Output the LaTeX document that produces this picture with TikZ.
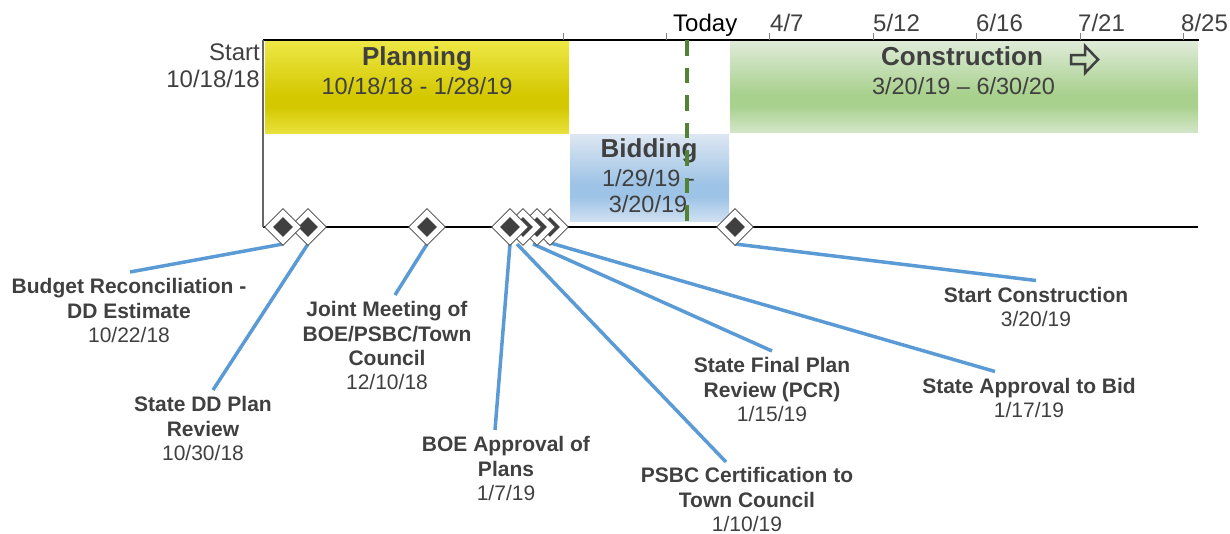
\documentclass[tikz,border=0pt]{standalone}
\usepackage{fontspec}
\setmainfont{Liberation Sans}
\usetikzlibrary{shapes.geometric,calc}
\definecolor{txt}{HTML}{404040}
\definecolor{conn}{HTML}{5B9BD5}
\definecolor{todayc}{HTML}{548235}
\definecolor{yA}{HTML}{EEE846}
\definecolor{yB}{HTML}{D4C800}
\definecolor{yC}{HTML}{E9E13C}
\definecolor{gA}{HTML}{E0ECDA}
\definecolor{gB}{HTML}{A9D18E}
\definecolor{gC}{HTML}{D3E6C8}
\definecolor{bA}{HTML}{DDE7F2}
\definecolor{bB}{HTML}{9DC3E6}
\definecolor{bC}{HTML}{D0E1F1}
\pgfdeclareverticalshading{planshade}{100bp}{color(0bp)=(yC); color(25bp)=(yC); color(39bp)=(yB); color(45bp)=(yB); color(75bp)=(yA); color(100bp)=(yA)}
\pgfdeclareverticalshading{consshade}{100bp}{color(0bp)=(gC); color(25bp)=(gC); color(39bp)=(gB); color(46bp)=(gB); color(75bp)=(gA); color(100bp)=(gA)}
\pgfdeclareverticalshading{bidshade}{100bp}{color(0bp)=(bC); color(25bp)=(bC); color(39bp)=(bB); color(46bp)=(bB); color(75bp)=(bA); color(100bp)=(bA)}
\tikzset{
  phasebox/.style={draw=none, inner sep=0pt, outer sep=0pt, rectangle},
  title/.style={font=\fontsize{26}{30}\selectfont\bfseries, text=txt, inner sep=0pt, anchor=base},
  pdate/.style={font=\fontsize{23.5}{28}\selectfont, text=txt, inner sep=0pt, anchor=base},
  axlab/.style={font=\fontsize{24}{28}\selectfont, text=txt, inner sep=0pt, anchor=base west},
  lbl/.style={font=\fontsize{21}{24.2}\selectfont, text=txt, align=center, inner sep=0pt, anchor=north},
  conline/.style={draw=conn, line width=3.5pt},
  msout/.style={shape=diamond, draw=txt, line width=0.8pt, fill=white, inner sep=0pt, minimum width=37pt, minimum height=37pt},
  msin/.style={shape=diamond, fill=txt, draw=none, inner sep=0pt, minimum width=20pt, minimum height=20pt},
  tick/.style={draw=gray, line width=1pt}
}
\begin{document}
\begin{tikzpicture}[x=1pt,y=-1pt]
\useasboundingbox (0,0) rectangle (1230,533);
% phase boxes
\node[phasebox, shading=planshade, minimum width=304pt, minimum height=93pt] (plan) at (417,86.5) {};
\node[phasebox, shading=consshade, minimum width=468pt, minimum height=92pt] (cons) at (964,86) {};
\node[phasebox, shading=bidshade, minimum width=159pt, minimum height=87pt] (bid) at (649.5,177.5) {};
% axes
\coordinate (axL) at (263,40);
\coordinate (axR) at (1199,40);
\coordinate (baseL) at (263,227);
\coordinate (baseR) at (1198,227);
\draw[black, line width=1.3pt] (axL) -- (axR);
\draw[black, line width=1.1pt] (baseL) -- (baseR);
\draw[draw=txt!80, line width=1.1pt] (axL) -- (baseL);
\foreach \t [count=\i] in {563,666,769,873,976,1080,1183}{
  \coordinate (tk\i) at (\t,33);
  \draw[tick] (tk\i) -- ++(0,7);
}
% axis labels
\node[axlab, text=black] (today) at (673,31.5) {Today};
\node[axlab] (t1) at (770,31.5) {4/7};
\node[axlab] (t2) at (873,31.5) {5/12};
\node[axlab] (t3) at (976,31.5) {6/16};
\node[axlab] (t4) at (1078,31.5) {7/21};
\node[axlab] (t5) at (1181,31.5) {8/25};
\node[font=\fontsize{24}{28}\selectfont, text=txt, inner sep=0pt, anchor=base east] (st1) at (260,60) {Start};
\node[font=\fontsize{24}{28}\selectfont, text=txt, inner sep=0pt, anchor=base east] (st2) at (260,87.3) {10/18/18};
% phase texts
\node[title] (plant) at (417,65) {Planning};
\node[pdate] (pland) at (417,94) {10/18/18 - 1/28/19};
\node[title] (const) at (962,65) {Construction};
\node[pdate] (consd) at (963.5,94) {3/20/19 – 6/30/20};
\node[title] (bidt) at (649,157.3) {Bidding};
\node[pdate] (bidd1) at (648.5,186.7) {1/29/19 -};
\node[pdate] (bidd2) at (648,212.7) {3/20/19};
% arrow in construction
\draw[draw=txt, line width=2.5pt, line join=miter] (1071,55) -- (1085,55) -- (1085,46) -- (1098,59.5) -- (1085,73) -- (1085,64) -- (1071,64) -- cycle;
% milestone positions
\coordinate (p1) at (283,227);
\coordinate (p2) at (308,227);
\coordinate (p3) at (427,227);
\coordinate (p4) at (510,227);
\coordinate (p5) at (523,227);
\coordinate (p6) at (537,227);
\coordinate (p7) at (550,227);
\coordinate (p8) at (735,227);
% labels
\node[lbl] (l1) at (129,278.5) {\textbf{Budget Reconciliation -}\\\textbf{DD Estimate}\\10/22/18};
\node[lbl] (l2) at (203,396.5) {\textbf{State DD Plan}\\\textbf{Review}\\10/30/18};
\node[lbl] (l3) at (387,301.5) {\textbf{Joint Meeting of}\\\textbf{BOE/PSBC/Town}\\\textbf{Council}\\12/10/18};
\node[lbl] (l4) at (506,436.5) {\textbf{BOE Approval of}\\\textbf{Plans}\\1/7/19};
\node[lbl] (l5) at (747,467.5) {\textbf{PSBC Certification to}\\\textbf{Town Council}\\1/10/19};
\node[lbl] (l6) at (772,357.5) {\textbf{State Final Plan}\\\textbf{Review (PCR)}\\1/15/19};
\node[lbl] (l7) at (1029,378) {\textbf{State Approval to Bid}\\1/17/19};
\node[lbl] (l8) at (1036,287) {\textbf{Start Construction}\\3/20/19};
% connectors
\draw[conline] ($(p1)+(0,17)$) -- ($(l1.north)+(1,-6.5)$);
\draw[conline] ($(p2)+(0,17)$) -- ($(l2.north)+(10,-6.5)$);
\draw[conline] ($(p3)+(0,17)$) -- ($(l3.north)+(8,-6.5)$);
\draw[conline] ($(p4)+(0,17)$) -- ($(l4.north)+(-11,-6.5)$);
\draw[conline] ($(p5)+(-6,17)$) -- ($(l5.north)+(-21,-5.5)$);
\draw[conline] ($(p6)+(-4,17)$) -- ($(l6.north)+(0,-6.5)$);
\draw[conline] ($(p7)+(-3,15)$) -- ($(l7.north)+(-34,-6.5)$);
\draw[conline] ($(p8)+(0,17)$) -- ($(l8.north)+(0,-6.5)$);
% diamonds, right to left
\node[msout] (d8) at (p8) {}; \node[msin] (d8i) at (p8) {};
\node[msout] (d7) at (p7) {}; \node[msin] (d7i) at (p7) {};
\node[msout] (d6) at (p6) {}; \node[msin] (d6i) at (p6) {};
\node[msout] (d5) at (p5) {}; \node[msin] (d5i) at (p5) {};
\node[msout] (d4) at (p4) {}; \node[msin] (d4i) at (p4) {};
\node[msout] (d3) at (p3) {}; \node[msin] (d3i) at (p3) {};
\node[msout] (d2) at (p2) {}; \node[msin] (d2i) at (p2) {};
\node[msout] (d1) at (p1) {}; \node[msin] (d1i) at (p1) {};
% today line
\coordinate (tdTop) at (686.5,40);
\coordinate (tdBot) at (686.5,223);
\draw[draw=todayc, line width=4pt, dash pattern=on 15.5pt off 12pt] (tdTop) -- (tdBot);
\end{tikzpicture}
\end{document}
